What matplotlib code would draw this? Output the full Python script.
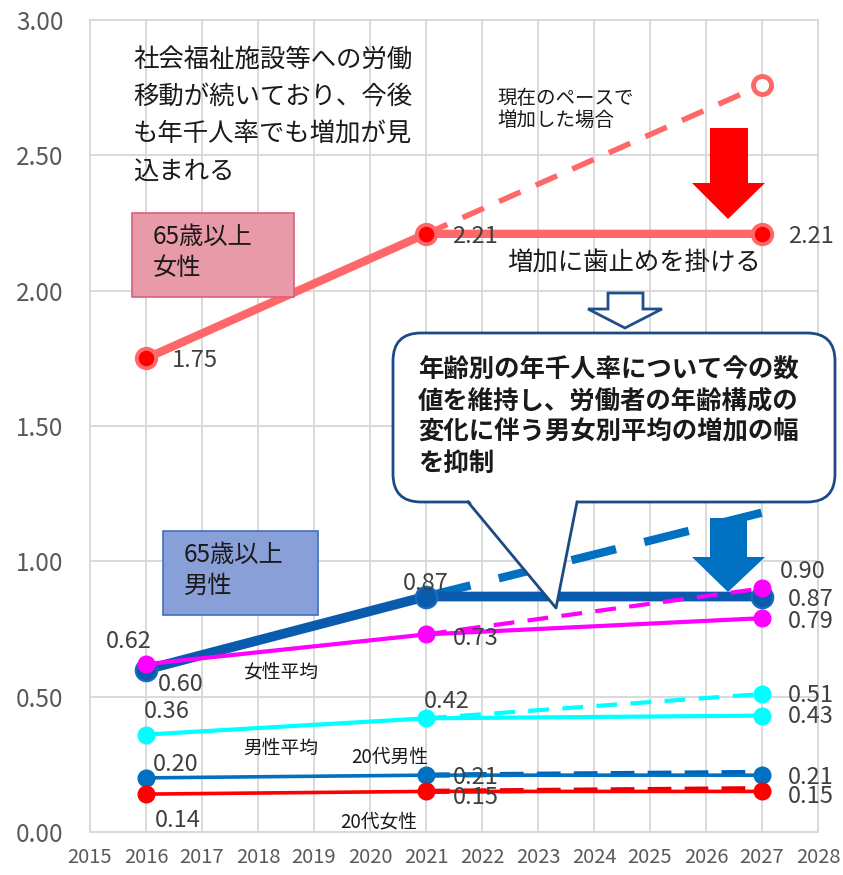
import numpy as np
import matplotlib
matplotlib.use("Agg")
import matplotlib.pyplot as plt
from matplotlib import transforms as mtransforms
from matplotlib.patches import Polygon, FancyBboxPatch, Rectangle

plt.rcParams['font.family'] = ['Noto Sans CJK JP', 'DejaVu Sans']

# --- data ---
years = [2016, 2021, 2027]
trend_years = [2021, 2027]

f65 = [1.75, 2.21, 2.21]
f65_trend = [2.21, 2.76]
m65 = [0.60, 0.87, 0.87]
m65_trend = [0.87, 1.18]
f_avg = [0.62, 0.73, 0.79]
f_avg_trend = [0.73, 0.90]
m_avg = [0.36, 0.42, 0.43]
m_avg_trend = [0.42, 0.51]
m20 = [0.20, 0.21, 0.21]
m20_trend = [0.21, 0.22]
f20 = [0.14, 0.15, 0.15]
f20_trend = [0.15, 0.16]

x_ticks = list(range(2015, 2029))
y_ticks = [0.0, 0.5, 1.0, 1.5, 2.0, 2.5, 3.0]

note_lines = ["社会福祉施設等への労働", "移動が続いており、今後", "も年千人率でも増加が見", "込まれる"]
pace_lines = ["現在のペースで", "増加した場合"]
stop_text = "増加に歯止めを掛ける"
callout_lines = ["年齢別の年千人率について今の数", "値を維持し、労働者の年齢構成の",
                 "変化に伴う男女別平均の増加の幅", "を抑制"]

W, H = 843, 875
fig = plt.figure(figsize=(W / 100, H / 100), dpi=100)
ax = fig.add_axes([90 / W, 1 - 832 / H, 728 / W, 812 / H])
# pixel coordinates, origin top-left
pxt = mtransforms.Affine2D().scale(1 / W, -1 / H).translate(0, 1) + fig.transFigure

ax.set_xlim(2015, 2028)
ax.set_ylim(0, 3.0)
ax.set_xticks(x_ticks)
ax.set_yticks(y_ticks)
ax.set_yticklabels(["%.2f" % v for v in y_ticks])
ax.grid(True, color='#D9D9D9', lw=1.4, zorder=0)
ax.set_axisbelow(True)
for s in ax.spines.values():
    s.set_color('#D9D9D9')
    s.set_linewidth(1.4)
ax.tick_params(length=0, colors='#595959')
ax.tick_params(axis='y', labelsize=17.5, pad=19)
ax.tick_params(axis='x', labelsize=14.5, pad=11)

# --- series ---
salmon = '#FF6868'
ax.plot(years, f65, color=salmon, lw=6, zorder=4, solid_capstyle='round')
ax.plot(trend_years, f65_trend, color=salmon, lw=4, ls=(0, (4.2, 3.0)), zorder=4)
ax.plot(years, f65, 'o', color='#FF0000', ms=14, mec=salmon, mew=2.8, zorder=5)
ax.plot(trend_years[1:], f65_trend[1:], 'o', color='white', ms=13, mec=salmon, mew=3.5, zorder=5)

ax.plot(trend_years, m65_trend, color='#0070C0', lw=6, ls=(0, (5.5, 3.5)), zorder=4)
ax.plot(years, m65, color='#0A5BAE', lw=7, zorder=4)
ax.plot(years, m65, 'o', color='#0A5BAE', ms=15.5, mec='#1A6CC0', mew=1.5, zorder=5)

ax.plot(trend_years, f_avg_trend, color='#FF00FF', lw=3, ls=(0, (5, 3.2)), zorder=6)
ax.plot(years, f_avg, color='#FF00FF', lw=3, zorder=6)
ax.plot(years, f_avg, 'o', color='#FF00FF', ms=12, zorder=6)
ax.plot(trend_years[1:], f_avg_trend[1:], 'o', color='#FF00FF', ms=12, zorder=6)

ax.plot(trend_years, m_avg_trend, color='#00FFFF', lw=3, ls=(0, (5, 3.2)), zorder=6)
ax.plot(years, m_avg, color='#00FFFF', lw=3, zorder=6)
ax.plot(years, m_avg, 'o', color='#00FFFF', ms=12, zorder=6)
ax.plot(trend_years[1:], m_avg_trend[1:], 'o', color='#00FFFF', ms=12, zorder=6)

ax.plot(trend_years, m20_trend, color='#0062B8', lw=3.8, ls=(0, (4.5, 2.5)), zorder=6)
ax.plot(years, m20, color='#0070C0', lw=2.6, zorder=6)
ax.plot(years, m20, 'o', color='#0070C0', ms=12, zorder=6)

ax.plot(trend_years, f20_trend, color='#E80000', lw=3.8, ls=(0, (4.5, 2.5)), zorder=6)
ax.plot(years, f20, color='#FF0000', lw=2.6, zorder=6)
ax.plot(years, f20, 'o', color='#FF0000', ms=12, zorder=6)

# --- data labels ---
def lab(x, y, dx, dy, ha='left'):
    ax.annotate("%.2f" % y, (x, y), xytext=(dx, -dy), textcoords='offset pixels',
                ha=ha, va='center', fontsize=17, color='#404040', zorder=7)

for x, y in zip(years, f65):
    lab(x, y, 26, 3) if x != 2016 else lab(x, y, 26, 2)
lab(2016, m65[0], 12, 15)
lab(2021, m65[1], 0, -13, ha='center')
lab(2027, m65[2], 26, 3)
lab(2016, f_avg[0], -17, -23, ha='center')
lab(2021, f_avg[1], 27, 4)
lab(2027, f_avg[2], 26, 3)
lab(2027, f_avg_trend[1], 18, -17)
lab(2016, m_avg[0], -2, -23)
lab(2021, m_avg[1], -2, -17)
lab(2027, m_avg[2], 26, 1)
lab(2027, m_avg_trend[1], 26, 2)
lab(2016, m20[0], 7, -13)
lab(2021, m20[1], 27, 2)
lab(2027, m20[2], 26, 2)
lab(2016, f20[0], 9, 26)
lab(2021, f20[1], 27, 6)
lab(2027, f20[2], 26, 5)

# --- annotations (pixel coordinates) ---
def txt(x, y, s, size, **kw):
    fig.text(x, y, s, transform=pxt, fontsize=size, va='center', ha='left', **kw)

for i, line in enumerate(note_lines):
    txt(133, 60 + i * 37.3, line, 18.3, color='#1a1a1a')
for i, line in enumerate(pace_lines):
    txt(497, 98 + i * 22, line, 14, color='#1a1a1a')
txt(507, 264, stop_text, 18.3, color='#1a1a1a')

fig.patches.append(Rectangle((132, 213), 162, 84, transform=pxt, fc='#E99AA8',
                             ec='#D9607A', lw=1.2, zorder=2))
txt(153, 237, "65歳以上", 17.5, color='#1a1a1a', zorder=3)
txt(153, 268, "女性", 17.5, color='#1a1a1a', zorder=3)
fig.patches.append(Rectangle((163, 531), 155, 84, transform=pxt, fc='#899FD7',
                             ec='#3F6FC0', lw=1.2, zorder=2))
txt(184, 555, "65歳以上", 17.5, color='#1a1a1a', zorder=3)
txt(184, 586, "男性", 17.5, color='#1a1a1a', zorder=3)

txt(243, 672, "女性平均", 13.5, color='#1a1a1a')
txt(243, 748, "男性平均", 13.5, color='#1a1a1a')
txt(351, 757, "20代男性", 13.5, color='#1a1a1a')
txt(340, 822, "20代女性", 13.5, color='#1a1a1a')


def block_arrow(x0, x1, top, base, hx0, hx1, tipx, tipy, fc, ec='none', lw=0):
    pts = [(x0, top), (x1, top), (x1, base), (hx1, base), (tipx, tipy),
           (hx0, base), (x0, base)]
    fig.patches.append(Polygon(pts, closed=True, transform=pxt, fc=fc, ec=ec,
                               lw=lw, zorder=3, joinstyle='miter'))


block_arrow(710, 748, 128, 183, 692, 765, 728, 219, '#FF0000')
block_arrow(710, 747, 518, 557, 692, 765, 728, 592, '#0070C0')
block_arrow(608, 643, 293, 309, 588, 662, 625, 328, 'white', ec='#1F4E8C', lw=2)

navy = '#1B4A85'
fig.patches.append(FancyBboxPatch((393, 333), 442, 169, boxstyle='round,pad=0,rounding_size=28',
                                  transform=pxt, fc='white', ec=navy, lw=2, zorder=8))
fig.patches.append(Polygon([(469, 500), (556, 608), (577, 500)], closed=True, transform=pxt,
                           fc='white', ec='none', zorder=8.5))
fig.lines.append(plt.Line2D([468, 556, 577], [502, 608, 502], transform=pxt,
                            color=navy, lw=2, zorder=9))
for i, line in enumerate(callout_lines):
    txt(418, 370 + i * 31, line, 18.3, color='#1a1a1a', fontweight='bold', zorder=10)

fig.savefig("out.png", dpi=100)
